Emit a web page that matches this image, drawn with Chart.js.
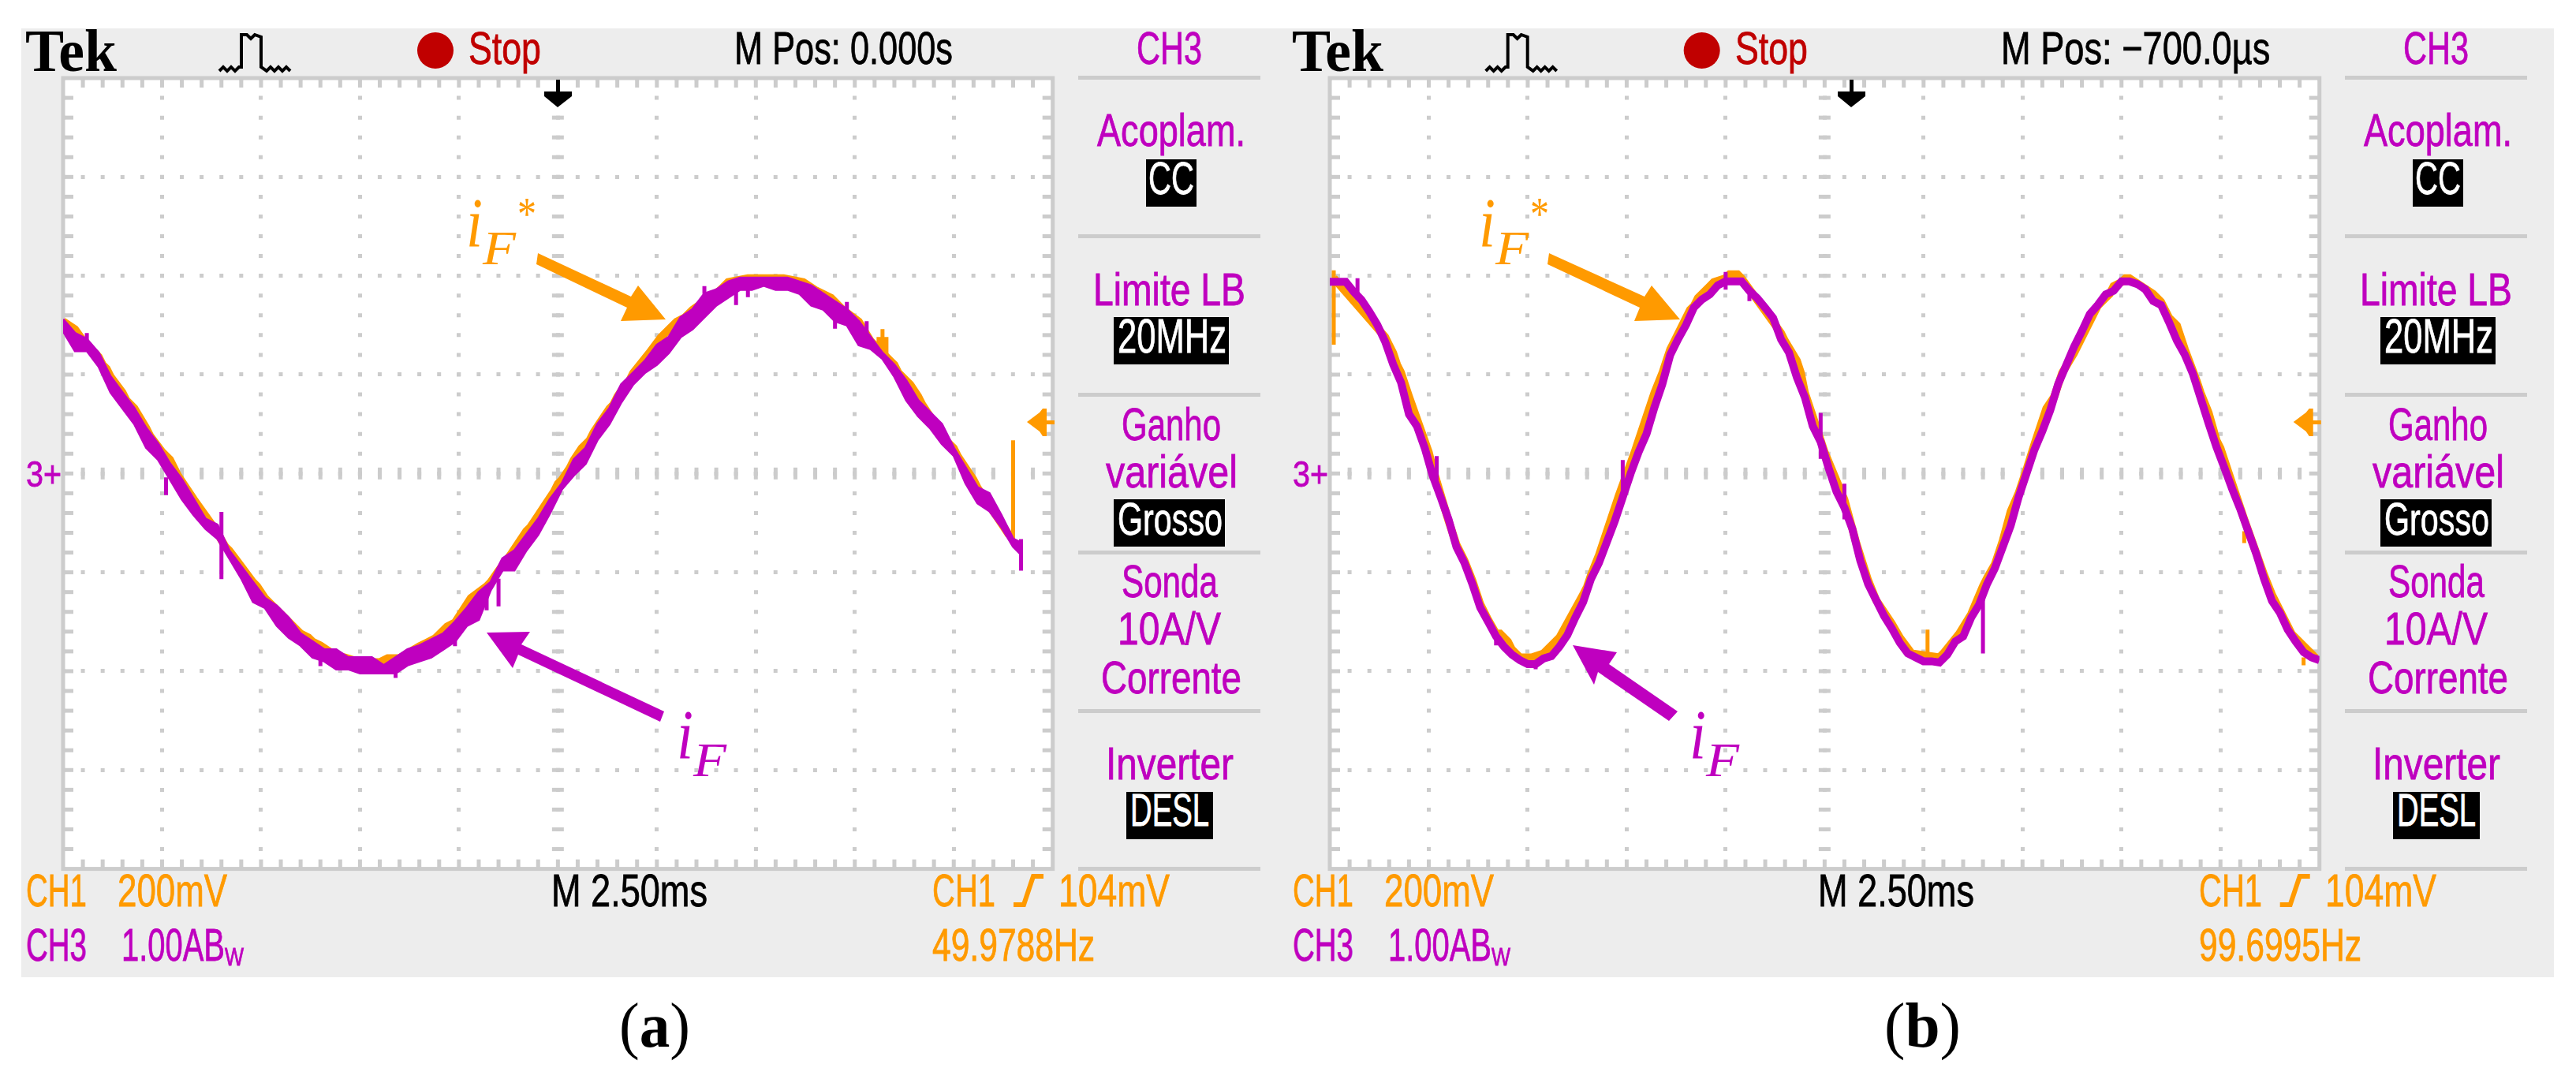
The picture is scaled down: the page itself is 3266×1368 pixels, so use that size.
<!DOCTYPE html>
<html>
<head>
<meta charset="utf-8">
<title>Tek scope captures</title>
<script src="https://cdn.jsdelivr.net/npm/chart.js@4/dist/chart.umd.min.js"></script>
<style>
  html, body { margin: 0; padding: 0; background: #fff; }
  #page { position: relative; width: 3266px; height: 1368px; overflow: hidden; background: #fff; }
  #scope { position: absolute; left: 27px; top: 36px; width: 3211px; height: 1203px; background: #ededed; }
  canvas { position: absolute; }
  svg { position: absolute; left: 0; top: 0; }
  .t { position: absolute; white-space: nowrap; line-height: 1; transform-origin: 0 0; }
  .box { position: absolute; background: #000; }
  .rule { position: absolute; background: #ccc; height: 5px; }
</style>
</head>
<body>
<div id="page"><div id="scope"></div></div>
<script>
// Values are scope record points: x is sample number (250 across the screen),
// y is screen level (200 high, 100 = centre line). All read off the photo.

// (a) 49.98 Hz, purple trace is a thick band so keep upper and lower edge
const aTime = [0, 3, 6, 9, 12, 15, 18, 21, 24, 27, 30, 33, 36, 39, 42, 45, 48, 51, 54, 57, 60, 63, 66, 69, 72, 75, 78, 81, 84, 87, 90, 93, 96, 99, 102, 105, 108, 111, 114, 117, 120, 123, 126, 129, 132, 135, 138, 141, 144, 147, 150, 153, 156, 159, 162, 165, 168, 171, 174, 177, 180, 183, 186, 189, 192, 195, 198, 201, 204, 207, 210, 213, 216, 219, 222, 225, 228, 231, 234, 237, 240, 242];
const aUpper = [139, 135.5, 134, 130.5, 124.5, 120.5, 116.5, 111.5, 107.5, 102.5, 98.5, 93.5, 88.5, 87, 80.5, 76.5, 72.5, 68.5, 66.5, 63.5, 59.5, 57.5, 55.5, 55.5, 53.5, 53.5, 53.5, 51.5, 53.5, 55.5, 56.5, 58, 59.5, 62.5, 66, 70, 72.5, 78.5, 80.5, 84.5, 88.5, 93.5, 97.5, 103.5, 106.5, 112.5, 116.5, 122.5, 125.5, 128.5, 132.5, 134.5, 139.5, 141.5, 145.5, 146.5, 148.5, 149.5, 149.5, 149.5, 149.5, 149.5, 148.5, 147.5, 145.5, 143.5, 141.5, 138.5, 134.5, 130.5, 127.5, 123.5, 118.5, 115.5, 112.5, 106.5, 101.5, 96.5, 95, 89.5, 83.5, 82.5];
const aLower = [136, 131, 131, 127, 120.5, 116.5, 112.5, 106.5, 103.5, 98.5, 93.5, 89.5, 86, 83.5, 78.5, 73.5, 67.5, 66, 61.5, 58.5, 56.5, 53.5, 52.5, 50.5, 50.5, 49.5, 49.5, 49.5, 49.5, 51.5, 52.5, 53.5, 55.5, 57.5, 61.5, 63, 70.5, 75.5, 75.5, 80.5, 84.5, 90, 96, 99.5, 102.5, 108.5, 112.5, 118, 122.5, 125.5, 127.5, 130.5, 134.5, 136.5, 139.5, 142.5, 144.5, 146.5, 146.5, 147.5, 146.5, 146.5, 145.5, 142.5, 141.5, 138.5, 137.5, 132.5, 131.5, 129, 124.5, 118.5, 114.5, 111.5, 107.5, 104.5, 97.5, 92.5, 90.5, 86.5, 81.5, 79.5];
const aRefTime = [0, 3, 5, 7, 9, 10, 11, 12, 15, 16, 18, 21, 22, 25, 27, 28, 29, 33, 38, 41, 42, 45, 48, 49, 51, 52, 60, 62, 63, 65, 68, 71, 75, 78, 80, 82, 85, 90, 92, 94, 97, 99, 103, 107, 108, 110, 113, 117, 118, 120, 122, 124, 125, 126, 128, 129, 131, 132, 133, 134, 136, 138, 139, 140, 142, 143, 144, 148, 151, 153, 155, 157, 159, 166, 168, 173, 178, 182, 187, 190, 194, 196, 197, 201, 204, 209, 210, 211, 212, 213, 214, 216, 217, 223, 224, 225, 226, 228, 230, 231, 235, 239];
const aRef = [138.5, 136.5, 133.7, 131.5, 129.5, 127.5, 126.5, 124.5, 120.5, 118.5, 116.5, 111.5, 109.5, 105.5, 103.5, 101.5, 99.5, 93.5, 86.5, 81.5, 80.5, 76.5, 72.5, 71.5, 68.5, 67.5, 59.5, 58.5, 57.5, 56.5, 54.5, 53.5, 52.3, 52.3, 52.3, 53.3, 53.3, 56.3, 57.3, 58.3, 61.3, 62.3, 68.5, 71.5, 72.5, 75.4, 79.4, 85.4, 86.4, 89.4, 92.4, 95.4, 97.4, 98.4, 101.4, 103.4, 106.4, 107.4, 108.4, 110.4, 113.4, 116.4, 117.4, 119.4, 122.4, 123.4, 125.4, 130.4, 134.4, 136.4, 138.4, 139.4, 141.4, 146.4, 148.4, 149.4, 149.4, 149.4, 148.4, 146.4, 144.4, 142.4, 141.4, 138.4, 133.5, 128.5, 127.5, 125.5, 124.5, 123.5, 122.5, 119.5, 117.5, 108.4, 107.4, 106.4, 104.4, 101.4, 98.4, 96.4, 90.4, 84.4];
const aSpikeTime = [6, 26, 40, 65, 84, 92, 99, 107, 110, 162, 170, 173, 195, 198, 203, 242];
const aSpikeLow = [131, 94.5, 73.3, 51.3, 48.3, 53, 56.3, 65.4, 66.4, 145.4, 142.6, 144.6, 136.6, 140, 134, 75.4];
const aSpikeHigh = [135.5, 99, 90.3, 54, 50, 55, 60, 70.4, 73.4, 147.4, 146.6, 147, 139, 143.4, 138.5, 83.4];
const aRefSpikeTime = [206, 207, 208, 240];
const aRefSpikeLow = [131, 130, 130, 83.4];
const aRefSpikeHigh = [134.5, 136.5, 134.5, 108.4];

// (b) 99.70 Hz, thin trace so one value per sample is enough
const bTime = [0, 2, 4, 6, 8, 10, 12, 14, 16, 18, 20, 22, 24, 26, 28, 30, 32, 34, 36, 38, 40, 42, 44, 46, 48, 50, 52, 54, 56, 58, 60, 62, 64, 66, 68, 70, 72, 74, 76, 78, 80, 82, 84, 86, 88, 90, 92, 94, 96, 98, 100, 102, 104, 106, 108, 110, 112, 114, 116, 118, 120, 122, 124, 126, 128, 130, 132, 134, 136, 138, 140, 142, 144, 146, 148, 150, 152, 154, 156, 158, 160, 162, 164, 166, 168, 170, 172, 174, 176, 178, 180, 182, 184, 186, 188, 190, 192, 194, 196, 198, 200, 202, 204, 206, 208, 210, 212, 214, 216, 218, 220, 222, 224, 226, 228, 230, 232, 234, 236, 238, 240, 242, 244, 246, 248, 250];
const bCurrent = [148.5, 148.5, 148.5, 146, 143.9, 140.9, 137.6, 133.3, 127.6, 123, 115, 112, 106.4, 99.4, 94, 88.4, 81.4, 77.4, 72.1, 66.1, 62.5, 58.8, 56.2, 54.2, 52.8, 51.8, 51.8, 53.2, 53.8, 56.2, 59.1, 63.5, 67.5, 73.4, 77.4, 82.7, 88, 94, 100, 105.4, 110, 116.7, 122.6, 130, 134, 137.6, 142, 144, 145.3, 147.6, 148.6, 148.6, 148.6, 146.2, 144.3, 141.9, 139.3, 133.9, 130.6, 124.3, 119.3, 112, 108, 101.4, 95.4, 91.4, 86, 78, 72, 68, 64, 60.8, 57.2, 54.5, 53.5, 52.5, 52.5, 52.2, 54.2, 57.5, 58.8, 63.5, 66.8, 72, 76, 81.4, 86.8, 94, 100, 106, 110.7, 116, 122.6, 127.3, 132, 136, 140.3, 142.6, 145.3, 146.2, 148.6, 148.6, 147.9, 146.6, 143.6, 142.6, 138.3, 133.6, 130, 125.3, 119, 112.7, 106.7, 101.4, 96, 91, 85.4, 79.8, 73.4, 67.8, 64.8, 60.5, 57.5, 54.8, 53.5, 52.8];
const bRefTime = [1, 14, 15, 16, 17, 18, 19, 20, 25, 26, 30, 32, 34, 36, 38, 40, 42, 43, 45, 46, 48, 51, 54, 55, 58, 64, 65, 66, 68, 73, 77, 78, 79, 80, 81, 82, 84, 85, 86, 87, 91, 92, 93, 95, 96, 97, 100, 101, 103, 104, 114, 115, 118, 119, 120, 122, 125, 130, 133, 136, 138, 140, 142, 144, 147, 154, 155, 159, 162, 165, 166, 168, 170, 172, 174, 176, 178, 179, 181, 183, 184, 185, 188, 190, 193, 194, 195, 196, 197, 198, 200, 201, 202, 208, 210, 211, 212, 214, 215, 216, 219, 220, 222, 224, 225, 227, 228, 229, 231, 236, 238, 240, 241, 242, 243, 246, 247, 249];
const bRef = [149.4, 134.5, 132.5, 130.5, 127.5, 125.5, 122.5, 119.5, 105.4, 101.4, 88, 82, 78, 73, 67, 63, 59.5, 59.5, 57.5, 55.5, 53.5, 53.5, 54.5, 55.5, 58.5, 69.4, 71.4, 74.4, 79.4, 94.4, 105.4, 108.4, 111.4, 114.4, 117.4, 120.4, 125.4, 128.4, 131.4, 133.4, 141.4, 142.4, 144.4, 146.4, 147.4, 148.4, 149.4, 150.4, 150.4, 149.4, 135.5, 133.5, 128.5, 125.5, 120.5, 114.5, 105.4, 93.4, 82.4, 73, 68, 65, 62, 58.5, 54.5, 53.5, 54.5, 59.5, 64.4, 71.5, 73.5, 77, 83, 90.4, 95, 101, 107.4, 110.4, 116.4, 119.4, 122.4, 125.4, 130.4, 134.4, 140.4, 142.4, 143.4, 144.4, 145.4, 147.4, 148.4, 149.4, 149.4, 145.4, 143.4, 141.4, 139.4, 137.4, 134.4, 131.4, 123.4, 120.4, 115.4, 108.4, 106.4, 100.4, 97.4, 94.4, 88.4, 74.4, 69.4, 65.4, 63.4, 61.4, 59.4, 56.4, 55.4, 53.4];
const bSpikeTime = [7, 27, 42, 52, 74, 100, 106, 124, 130, 165];
const bSpikeLow = [144, 96.4, 56.5, 50.5, 95.4, 146.5, 143.6, 103.7, 88.4, 54.5];
const bSpikeHigh = [149.4, 104.4, 59, 52, 103.4, 151, 146, 115.3, 97.4, 69.5];
const bRefSpikeTime = [1, 151, 231, 246];
const bRefSpikeLow = [132.6, 52.5, 82.4, 51.5];
const bRefSpikeHigh = [151.4, 60.5, 85.4, 53.5];

const PURPLE = "#bf00bf";
const ORANGE = "#ff9a00";
const GRID = "#cccccc";
const PANEL_SHIFT = 1605.7;

const page = document.getElementById("page");

function xy(xs, ys) {
  return xs.map((x, i) => ({ x, y: ys[i] }));
}

// Short vertical glitches: low/high pairs split by a gap
function spikes(xs, lows, highs) {
  const out = [];
  xs.forEach((x, i) => {
    out.push({ x, y: lows[i] }, { x, y: highs[i] }, { x, y: null });
  });
  return out;
}

// The Tek graticule ticks: frame, edge ticks and the two centre lines
const graticule = {
  id: "graticule",
  beforeDraw(chart) {
    const { ctx, chartArea: a } = chart;
    ctx.save();
    ctx.fillStyle = "#fff";
    ctx.fillRect(a.left, a.top, a.right - a.left, a.bottom - a.top);
    ctx.restore();
  },
  beforeDatasetsDraw(chart) {
    const { ctx, chartArea: a, scales } = chart;
    const midX = scales.x.getPixelForValue(125);
    const midY = scales.y.getPixelForValue(100);
    ctx.save();
    ctx.fillStyle = GRID;
    for (let v = 5; v < 250; v += 5) {
      const px = scales.x.getPixelForValue(v);
      ctx.fillRect(px - 2.5, a.top, 5, 12);
      ctx.fillRect(px - 2.5, a.bottom - 12, 5, 12);
      ctx.fillRect(px - 2.5, midY - 7.5, 5, 15);
    }
    for (let v = 5; v < 200; v += 5) {
      const py = scales.y.getPixelForValue(v);
      ctx.fillRect(a.left, py - 2.5, 13, 5);
      ctx.fillRect(a.right - 13, py - 2.5, 13, 5);
      ctx.fillRect(midX - 7.5, py - 2.5, 15, 5);
    }
    ctx.strokeStyle = GRID;
    ctx.lineWidth = 5;
    ctx.strokeRect(a.left, a.top, a.right - a.left, a.bottom - a.top);
    ctx.restore();
  },
};

function newCanvas(left) {
  const canvas = document.createElement("canvas");
  canvas.style.left = left + "px";
  canvas.style.top = "79px";
  canvas.width = 1300;
  canvas.height = 1042;
  page.appendChild(canvas);
  return canvas;
}

function scopeChart(left, datasets) {
  return new Chart(newCanvas(left), {
    type: "line",
    data: { datasets },
    plugins: [graticule],
    options: {
      responsive: false,
      animation: false,
      devicePixelRatio: 1,
      parsing: true,
      layout: { padding: { left: 20, top: 20, right: 25.3, bottom: 19.4 } },
      plugins: { legend: { display: false }, tooltip: { enabled: false } },
      elements: { point: { radius: 0 }, line: { borderJoinStyle: "miter", borderCapStyle: "butt" } },
      scales: {
        x: {
          type: "linear",
          min: 0,
          max: 250,
          ticks: { display: false, stepSize: 25 },
          grid: { color: GRID, lineWidth: 5, drawTicks: false },
          border: { display: false, dash: [5, 20.066], dashOffset: 2.5 },
        },
        y: {
          type: "linear",
          min: 0,
          max: 200,
          ticks: { display: false, stepSize: 25 },
          grid: { color: GRID, lineWidth: 5, drawTicks: false },
          border: { display: false, dash: [5, 20.09], dashOffset: 2.5 },
        },
      },
    },
  });
}

scopeChart(60, [
  { label: "iF upper", data: xy(aTime, aUpper), borderColor: PURPLE, backgroundColor: PURPLE, borderWidth: 3, fill: "+1", order: 1 },
  { label: "iF lower", data: xy(aTime, aLower), borderColor: PURPLE, borderWidth: 3, order: 2 },
  { label: "iF glitches", data: spikes(aSpikeTime, aSpikeLow, aSpikeHigh), borderColor: PURPLE, borderWidth: 5, order: 3 },
  { label: "iF*", data: xy(aRefTime, aRef), borderColor: ORANGE, borderWidth: 10, order: 4 },
  { label: "iF* glitches", data: spikes(aRefSpikeTime, aRefSpikeLow, aRefSpikeHigh), borderColor: ORANGE, borderWidth: 5, order: 5 },
]);

scopeChart(60 + PANEL_SHIFT, [
  { label: "iF", data: xy(bTime, bCurrent), borderColor: PURPLE, borderWidth: 10, order: 1 },
  { label: "iF glitches", data: spikes(bSpikeTime, bSpikeLow, bSpikeHigh), borderColor: PURPLE, borderWidth: 5, order: 2 },
  { label: "iF*", data: xy(bRefTime, bRef), borderColor: ORANGE, borderWidth: 10, order: 3 },
  { label: "iF* glitches", data: spikes(bRefSpikeTime, bRefSpikeLow, bRefSpikeHigh), borderColor: ORANGE, borderWidth: 5, order: 4 },
]);

// Text: squeezed to the width it has on the scope screen
const SANS = { family: "'Liberation Sans'", cap: 0.688, base: 0.8465 };
const SERIF = { family: "'Liberation Serif'", cap: 0.655, base: 0.8375 };

function label(text, x1, x2, top, bottom, color, font = SANS, css = "") {
  const el = document.createElement("div");
  const size = (bottom - top) / font.cap;
  el.className = "t";
  el.innerHTML = text;
  el.style.cssText = `font-family:${font.family},sans-serif;font-size:${size}px;color:${color};left:${x1}px;top:${bottom - font.base * size}px;${css}`;
  page.appendChild(el);
  const w = el.getBoundingClientRect().width;
  el.style.transform = `scaleX(${(x2 - x1) / w})`;
}

function box(x1, x2, top, bottom) {
  const el = document.createElement("div");
  el.className = "box";
  el.style.cssText = `left:${x1}px;width:${x2 - x1}px;top:${top}px;height:${bottom - top}px`;
  page.appendChild(el);
}

function rule(x1, x2, y) {
  const el = document.createElement("div");
  el.className = "rule";
  el.style.cssText = `left:${x1}px;width:${x2 - x1}px;top:${y - 2.5}px`;
  page.appendChild(el);
}

function panelText(d, mPos, mPosEnd, freq) {
  const THICK = "-webkit-text-stroke:0.8px currentColor";
  label("Tek", d + 32, d + 148, 41, 91, "#000", SERIF, "font-weight:bold");
  label("Stop", d + 594, d + 686, 41, 81, "#c00000", SANS, THICK);
  label(mPos, d + 931, mPosEnd, 41, 81, "#000", SANS, THICK);
  label("CH3", d + 1441, d + 1524, 41, 81, PURPLE, SANS, THICK);
  label("3+", d + 33, d + 78, 585, 617, PURPLE, SANS, THICK);

  [98.7, 299, 500, 700, 901.6, 1101.7].forEach((y) => rule(d + 1367, d + 1598, y));

  label("Acoplam.", d + 1391, d + 1579, 147, 186, PURPLE, SANS, THICK);
  box(d + 1453, d + 1517, 202, 262);
  label("CC", d + 1456, d + 1514, 206, 246, "#fff", SANS, THICK);
  label("Limite LB", d + 1386, d + 1579, 347, 387, PURPLE, SANS, THICK);
  box(d + 1412, d + 1558, 402, 462);
  label("20MHz", d + 1417, d + 1555, 406, 448, "#fff", SANS, THICK);
  label("Ganho", d + 1422, d + 1548, 518, 558, PURPLE, SANS, THICK);
  label("variável", d + 1402, d + 1569, 578, 618, PURPLE, SANS, THICK);
  box(d + 1412, d + 1553, 633, 693);
  label("Grosso", d + 1417, d + 1550, 638, 678, "#fff", SANS, THICK);
  label("Sonda", d + 1422, d + 1544, 719, 758, PURPLE, SANS, THICK);
  label("10A/V", d + 1417, d + 1548, 779, 818, PURPLE, SANS, THICK);
  label("Corrente", d + 1396, d + 1574, 839, 879, PURPLE, SANS, THICK);
  label("Inverter", d + 1402, d + 1564, 950, 989, PURPLE, SANS, THICK);
  box(d + 1428, d + 1538, 1004, 1064);
  label("DESL", d + 1433, d + 1533, 1009, 1048, "#fff", SANS, THICK);

  label("CH1", d + 33, d + 110, 1109, 1149, ORANGE, SANS, THICK);
  label("200mV", d + 149, d + 288, 1109, 1149, ORANGE, SANS, THICK);
  label("M 2.50ms", d + 699, d + 897, 1109, 1149, "#000", SANS, THICK);
  label("CH1", d + 1182, d + 1262, 1109, 1149, ORANGE, SANS, THICK);
  label("104mV", d + 1342, d + 1483, 1109, 1149, ORANGE, SANS, THICK);
  label("CH3", d + 33, d + 110, 1180, 1219, PURPLE, SANS, THICK);
  label("1.00AB", d + 154, d + 285, 1180, 1219, PURPLE, SANS, THICK);
  label("W", d + 285, d + 309, 1203, 1224, PURPLE, SANS, THICK);
  label(freq, d + 1182, d + 1388, 1180, 1219, ORANGE, SANS, THICK);
}

panelText(0, "M Pos: 0.000s", 1208, "49.9788Hz");
panelText(PANEL_SHIFT, "M Pos: −700.0µs", 2878, "99.6995Hz");

// Callouts and captions
const ITALIC = "font-style:italic";
function callout(x, y, color, star) {
  label("i", x, x + 21, y, y + 58, color, SERIF, ITALIC);
  label("F", x + 21, x + 63, y + 41, y + 81, color, SERIF, ITALIC);
  if (star) label("*", x + 65, x + 89, y - 1, y + 38, color, SERIF);
}
callout(591, 254, ORANGE, true);
callout(858, 903, PURPLE, false);
callout(1875, 254, ORANGE, true);
callout(2142, 903, PURPLE, false);

label("(<b>a</b>)", 785, 875, 1275, 1327, "#000", SERIF);
label("(<b>b</b>)", 2389, 2486, 1275, 1327, "#000", SERIF);

// Screen furniture: record-length icon, stop lamp, trigger pointers, callout arrows
function furniture(d) {
  return `
  <polyline points="${d + 278},90 ${d + 283},85 ${d + 288},90 ${d + 293},85 ${d + 298},90 ${d + 303},85 ${d + 306},85 ${d + 306},44 ${d + 313},44 ${d + 318},49 ${d + 323},44 ${d + 331},47 ${d + 331},85 ${d + 338},90 ${d + 343},85 ${d + 348},90 ${d + 353},85 ${d + 358},90 ${d + 363},85 ${d + 368},90" fill="none" stroke="#000" stroke-width="4"/>
  <circle cx="${d + 552}" cy="64" r="23" fill="#c00000"/>
  <rect x="${d + 1322}" y="533" width="15" height="5" fill="${ORANGE}"/>
  <polygon points="${d + 1302},535 ${d + 1318},523 ${d + 1322},518 ${d + 1327},518 ${d + 1327},553 ${d + 1322},553 ${d + 1318},547" fill="${ORANGE}"/>
  <polyline points="${d + 1285},1147 ${d + 1298},1147 ${d + 1310},1111 ${d + 1323},1111" fill="none" stroke="${ORANGE}" stroke-width="6"/>`;
}
const svg = `<svg width="3266" height="1368" xmlns="http://www.w3.org/2000/svg">
  ${furniture(0)}${furniture(PANEL_SHIFT)}
  <rect x="705" y="101" width="5" height="17" fill="#000"/>
  <polygon points="690,116 725,116 725,122 707,136 690,122" fill="#000"/>
  <rect x="2345" y="101" width="5" height="17" fill="#000"/>
  <polygon points="2330,116 2365,116 2365,122 2347,136 2330,122" fill="#000"/>
  <polygon points="682,321 800,376 809,362 844,405 787,407 795,390 680,335" fill="${ORANGE}"/>
  <polygon points="617,802 672,801 661,817 842,902 837,915 657,830 650,847" fill="${PURPLE}"/>
  <polygon points="1964,321 2085,376 2094,362 2130,405 2072,407 2079,390 1962,335" fill="${ORANGE}"/>
  <polygon points="1994,818 2050,827 2040,842 2127,902 2116,914 2026,852 2021,868" fill="${PURPLE}"/>
</svg>`;
page.insertAdjacentHTML("beforeend", svg);
</script>
</body>
</html>
